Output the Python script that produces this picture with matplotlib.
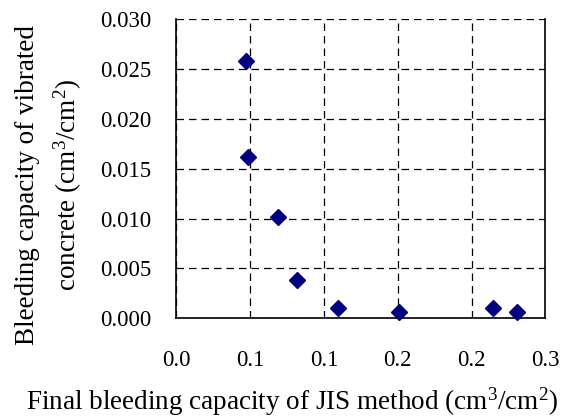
import numpy as np
import matplotlib
matplotlib.use("Agg")
import matplotlib.pyplot as plt

plt.rcParams['font.family'] = ['Liberation Serif', 'DejaVu Serif']
plt.rcParams['mathtext.fontset'] = 'custom'
plt.rcParams['mathtext.rm'] = 'Liberation Serif'
plt.rcParams['mathtext.it'] = 'Liberation Serif:italic'

# data
jis_bleeding = [0.0473, 0.0489, 0.0691, 0.0815, 0.1098, 0.1506, 0.2145, 0.2308]
vibrated_bleeding = [0.0258, 0.0162, 0.0102, 0.0038, 0.0010, 0.0006, 0.0010, 0.0006]

x_ticks = [0.0, 0.05, 0.10, 0.15, 0.20, 0.25]
x_tick_labels = ["0.0", "0.1", "0.1", "0.2", "0.2", "0.3"]
y_ticks = [0.0, 0.005, 0.010, 0.015, 0.020, 0.025, 0.030]
y_tick_labels = ["0.000", "0.005", "0.010", "0.015", "0.020", "0.025", "0.030"]

fig = plt.figure(figsize=(5.7, 4.17), dpi=100)
ax = fig.add_axes([0.309, 0.2367, 0.648, 0.7177])

ax.plot(jis_bleeding, vibrated_bleeding, linestyle='none', marker='D',
        markersize=8.5, color='#000080', clip_on=False, zorder=3)

ax.set_xlim(0, 0.25)
ax.set_ylim(0, 0.03)
ax.set_xticks(x_ticks)
ax.set_xticklabels(x_tick_labels)
ax.set_yticks(y_ticks)
ax.set_yticklabels(y_tick_labels)
ax.tick_params(length=0, labelsize=16.5)
ax.tick_params(axis='y', pad=18)
ax.tick_params(axis='x', pad=22.5)

ax.grid(True, color='black', linestyle=(0, (6, 4)), linewidth=0.9)
ax.set_axisbelow(True)
ax.spines['top'].set_visible(False)
for s in ['left', 'bottom', 'right']:
    ax.spines[s].set_linewidth(1.2)
    ax.spines[s].set_color('black')

# y title, two lines, placed in figure coords
fig.text(0.087, 0.556, "Bleeding capacity of vibrated\nconcrete (cm$^3$/cm$^2$)",
         ha='center', va='center', rotation=90, fontsize=19.5,
         linespacing=1.5, multialignment='center')
fig.text(0.513, 0.037, "Final bleeding capacity of JIS method (cm$^3$/cm$^2$)",
         ha='center', va='center', fontsize=19.5)

fig.savefig("out.png", dpi=100)
